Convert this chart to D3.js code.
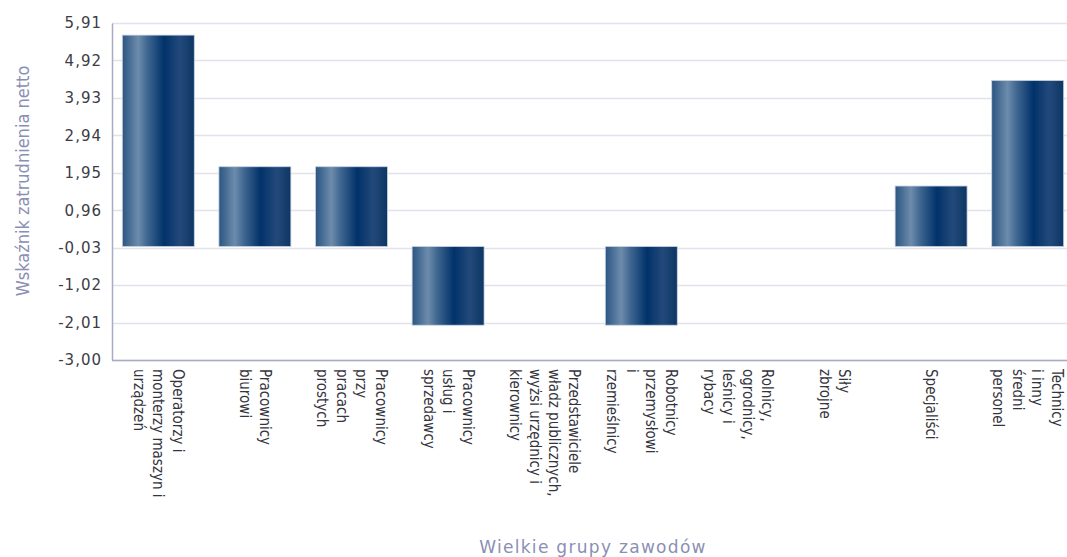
<!DOCTYPE html>
<html>
<head>
<meta charset="utf-8">
<script src="https://cdn.jsdelivr.net/npm/d3@7"></script>
<style>
  html, body { margin: 0; padding: 0; background: #fff; }
  svg text { font-family: "DejaVu Sans", Verdana, sans-serif; }
</style>
</head>
<body>
<div id="chart"></div>
<script>
// kategorie (linie etykiet rozdzielone |)
var categories = [
    'Operatorzy i|monterzy maszyn i|urządzeń',
    'Pracownicy|biurowi',
    'Pracownicy|przy|pracach|prostych',
    'Pracownicy|usług i|sprzedawcy',
    'Przedstawiciele|władz publicznych,|wyżsi urzędnicy i|kierownicy',
    'Robotnicy|przemysłowi|i|rzemieślnicy',
    'Rolnicy,|ogrodnicy,|leśnicy i|rybacy',
    'Siły|zbrojne',
    'Specjaliści',
    'Technicy|i inny|średni|personel'
]
var values = [5.59, 2.11, 2.11, -2.08, null, -2.08, null, null, 1.60, 4.39]
var yTicks = [-3.00, -2.01, -1.02, -0.03, 0.96, 1.95, 2.94, 3.93, 4.92, 5.91]

var width = 1067,
    height = 557,
    plot = { left: 112, right: 1067, top: 23, bottom: 360 }

var svg = d3.select('#chart').append('svg')
    .attr('width', width)
    .attr('height', height)

var defs = svg.append('defs')
var grad = defs.append('linearGradient')
    .attr('id', 'barGrad')
    .attr('x1', '0%').attr('x2', '100%')
    .attr('y1', '0%').attr('y2', '0%')
var stops = [
    [0, '#2b5582'], [0.22, '#6d8cac'], [0.35, '#3f6690'],
    [0.58, '#01326a'], [0.8, '#23497a'], [1, '#0c3664']
]
stops.forEach(function(s) {
    grad.append('stop').attr('offset', s[0]).attr('stop-color', s[1])
})

var x = d3.scaleBand()
    .domain(d3.range(categories.length))
    .range([110, 1076])
    .paddingInner(0.255)
    .paddingOuter(0.1275)

var y = d3.scaleLinear()
    .domain([-3, 5.91])
    .range([plot.bottom, plot.top])

// grid
svg.append('g')
    .selectAll('line')
    .data(yTicks)
    .enter().append('line')
    .attr('x1', plot.left)
    .attr('x2', plot.right)
    .attr('y1', function(d) { return Math.round(y(d)) + 0.5 })
    .attr('y2', function(d) { return Math.round(y(d)) + 0.5 })
    .attr('stroke', '#e2e2ec')
    .attr('stroke-width', 1.5)

// bars
svg.append('g')
    .selectAll('rect')
    .data(values.map(function(v, i) { return { i: i, v: v } }).filter(function(d) { return d.v !== null }))
    .enter().append('rect')
    .attr('x', function(d) { return x(d.i) })
    .attr('width', x.bandwidth())
    .attr('y', function(d) { return y(Math.max(0, d.v)) })
    .attr('height', function(d) { return Math.abs(y(d.v) - y(0)) })
    .attr('fill', 'url(#barGrad)')
    .attr('stroke', '#c9d2e0')
    .attr('stroke-width', 0.8)

// y axis
var yAxis = d3.axisLeft(y)
    .tickValues(yTicks)
    .tickSize(0)
    .tickPadding(10)
    .tickFormat(function(d) { return d3.format('.2f')(d).replace('.', ',').replace('−', '-') })

var gy = svg.append('g')
    .attr('transform', 'translate(' + plot.left + ',0)')
    .call(yAxis)
gy.select('.domain').attr('stroke', '#a8abc4').attr('stroke-width', 1.5)
gy.selectAll('text')
    .attr('fill', '#3c3c46')
    .style('font-size', '15px')
    .style('letter-spacing', '1px')

// x axis line
svg.append('line')
    .attr('x1', plot.left)
    .attr('x2', plot.right)
    .attr('y1', plot.bottom + 0.5)
    .attr('y2', plot.bottom + 0.5)
    .attr('stroke', '#a8abc4')
    .attr('stroke-width', 1.5)

// category labels, rotated
var lineH = 19.5
var labels = svg.append('g')
    .selectAll('text')
    .data(categories)
    .enter().append('text')
    .attr('transform', function(d, i) {
        return 'translate(' + (x(i) + x.bandwidth() / 2) + ',369) rotate(90)'
    })
    .attr('fill', '#34343e')
    .style('font-family', '"DejaVu Sans Condensed", "DejaVu Sans", sans-serif')
    .style('font-stretch', 'condensed')
    .style('font-size', '15px')

labels.each(function(d) {
    var lines = d.split('|'),
        t = d3.select(this)
    lines.forEach(function(l, k) {
        t.append('tspan')
            .attr('x', 0)
            .attr('y', (k - (lines.length - 1) / 2) * lineH + 5)
            .text(l)
    })
})

// axis titles
svg.append('text')
    .attr('x', 593)
    .attr('y', 553)
    .attr('text-anchor', 'middle')
    .attr('fill', '#8a8fb4')
    .style('font-size', '17px')
    .style('letter-spacing', '1.3px')
    .text('Wielkie grupy zawodów')

svg.append('text')
    .attr('transform', 'translate(29,181) rotate(-90)')
    .attr('text-anchor', 'middle')
    .attr('fill', '#8a8fb4')
    .style('font-family', '"DejaVu Sans Condensed", "DejaVu Sans", sans-serif')
    .style('font-stretch', 'condensed')
    .style('font-size', '18px')
    .text('Wskaźnik zatrudnienia netto')
</script>
</body>
</html>
